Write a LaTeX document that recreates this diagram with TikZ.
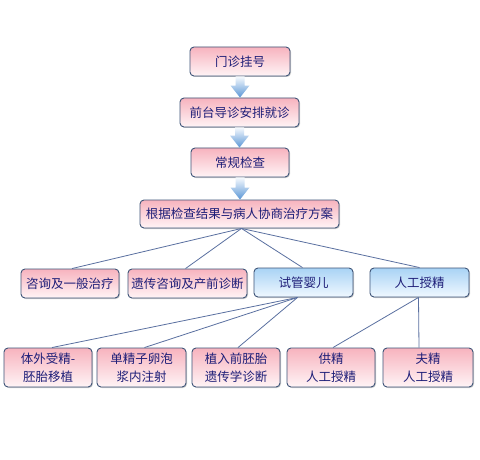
\documentclass[tikz,border=0pt]{standalone}
\usepackage{fontspec}
\newfontfamily\cjk{Noto Sans CJK SC}
\usetikzlibrary{calc,shadows}
\definecolor{txt}{HTML}{1E1E78}
\definecolor{bord}{HTML}{3E5478}
\definecolor{pinktop}{HTML}{F7B3BE}
\definecolor{pinkbot}{HTML}{FFF4F6}
\definecolor{bluetop}{HTML}{A9D3F5}
\definecolor{bluebot}{HTML}{F0F8FF}
\definecolor{linec}{HTML}{5A70A0}
\definecolor{arrtop}{HTML}{F6FAFE}
\definecolor{arrmid}{HTML}{C4DCF2}
\definecolor{arrbot}{HTML}{5A96D6}
\tikzset{
  box/.style={draw=bord, line width=0.9pt, rounded corners=4pt, inner sep=0pt,
    font=\cjk\fontsize{12.5}{18}\selectfont, text=txt, align=center,
    drop shadow={shadow xshift=1pt, shadow yshift=-1pt, opacity=0.2, fill=black}},
  pinkbox/.style={box, top color=pinktop, bottom color=pinkbot},
  bluebox/.style={box, top color=bluetop, bottom color=bluebot},
  link/.style={draw=linec, line width=0.8pt},
}
\newcommand{\flowarrow}[2]{%
  \path let \p1=(#1.south), \p2=(#2.north) in
    [top color=arrtop, middle color=arrmid, bottom color=arrbot, draw=none]
    (\x1-4.5pt,\y1) -- (\x1+4.5pt,\y1) -- (\x1+4.5pt,\y2+12pt) -- (\x1+9.5pt,\y2+12pt)
    -- (\x1,\y2) -- (\x1-9.5pt,\y2+12pt) -- (\x1-4.5pt,\y2+12pt) -- cycle;%
}
\begin{document}
\begin{tikzpicture}[x=1pt,y=-1pt]
\useasboundingbox (0,0) rectangle (480,460);
\fill[white] (0,0) rectangle (480,460);

\node[pinkbox, minimum width=100pt, minimum height=29pt] (a1) at (240,61.5) {门诊挂号};
\node[pinkbox, minimum width=119pt, minimum height=29pt] (a2) at (239.5,112.5) {前台导诊安排就诊};
\node[pinkbox, minimum width=98pt, minimum height=29pt] (a3) at (240,162.5) {常规检查};
\node[pinkbox, minimum width=199pt, minimum height=28pt] (a4) at (239.5,214) {根据检查结果与病人协商治疗方案};

\node[pinkbox, minimum width=98pt, minimum height=29pt] (b1) at (70,283.5) {咨询及一般治疗};
\node[pinkbox, minimum width=119pt, minimum height=29pt] (b2) at (187.5,283.5) {遗传咨询及产前诊断};
\node[bluebox, minimum width=99pt, minimum height=29pt] (b3) at (303.5,282.5) {试管婴儿};
\node[bluebox, minimum width=99pt, minimum height=29pt] (b4) at (419.5,282.5) {人工授精};

\node[pinkbox, minimum width=88pt, minimum height=39pt] (c1) at (48,367.5) {体外受精-\\胚胎移植};
\node[pinkbox, minimum width=89pt, minimum height=39pt] (c2) at (141.5,367.5) {单精子卵泡\\浆内注射};
\node[pinkbox, minimum width=88pt, minimum height=39pt] (c3) at (236,367.5) {植入前胚胎\\遗传学诊断};
\node[pinkbox, minimum width=88pt, minimum height=39pt] (c4) at (331,367.5) {供精\\人工授精};
\node[pinkbox, minimum width=90pt, minimum height=39pt] (c5) at (428,367.5) {夫精\\人工授精};

\flowarrow{a1}{a2}
\flowarrow{a2}{a3}
\flowarrow{a3}{a4}

\coordinate (a4s) at ([xshift=2pt]a4.south);
\draw[link] (a4s) -- ([xshift=2pt]b1.north);
\draw[link] (a4s) -- ([xshift=-2pt]b2.north);
\draw[link] (a4s) -- ([xshift=-1pt]b3.north);
\draw[link] (a4s) -- (b4.north);

\coordinate (b3s) at ([xshift=-6pt]b3.south);
\draw[link] (b3s) -- ([xshift=4pt]c1.north);
\draw[link] (b3s) -- ([xshift=3pt]c2.north);
\draw[link] (b3s) -- ([xshift=2pt]c3.north);

\coordinate (b4s) at ([xshift=-1pt]b4.south);
\draw[link] (b4s) -- ([xshift=2pt]c4.north);
\draw[link] (b4s) -- ([xshift=-9pt]c5.north);
\end{tikzpicture}
\end{document}
